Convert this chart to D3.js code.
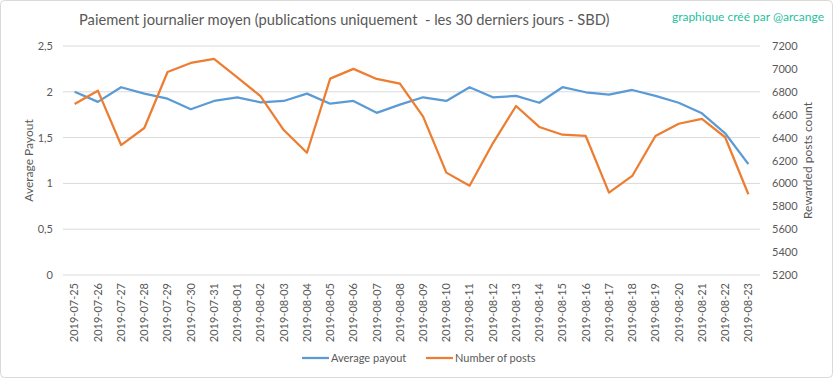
<!DOCTYPE html>
<html><head><meta charset="utf-8">
<script src="https://cdn.jsdelivr.net/npm/d3@7"></script>
<style>body{margin:0;background:#fff}svg{display:block}</style>
</head><body><svg id="c" width="833" height="379"></svg>
<script>
const dates = ["2019-07-25","2019-07-26","2019-07-27","2019-07-28","2019-07-29","2019-07-30","2019-07-31","2019-08-01","2019-08-02","2019-08-03","2019-08-04","2019-08-05","2019-08-06","2019-08-07","2019-08-08","2019-08-09","2019-08-10","2019-08-11","2019-08-12","2019-08-13","2019-08-14","2019-08-15","2019-08-16","2019-08-17","2019-08-18","2019-08-19","2019-08-20","2019-08-21","2019-08-22","2019-08-23"];
const averagePayout = [2.0,1.89,2.05,1.98,1.925,1.81,1.90,1.94,1.885,1.90,1.98,1.87,1.90,1.77,1.86,1.94,1.90,2.05,1.94,1.955,1.88,2.05,1.995,1.97,2.02,1.955,1.88,1.765,1.547,1.21];
const numberOfPosts = [6693,6810,6335,6484,6973,7052,7087,6925,6763,6466,6268,6915,7000,6912,6871,6583,6094,5980,6350,6676,6493,6425,6414,5919,6065,6414,6521,6563,6403,5905];
const leftTicks = [0,0.5,1,1.5,2,2.5];
const rightTicks = [5200,5400,5600,5800,6000,6200,6400,6600,6800,7000,7200];
const title = "Paiement journalier moyen (publications uniquement\u00a0 - les 30 derniers jours - SBD)";
const credit = "graphique créé par @arcange";

const svg = d3.select("#c");
const font = "Lato, 'Open Sans', sans-serif";
const gray = "#595959";
const L = 63, R = 760, T = 46, B = 275;

svg.append("rect").attr("x",0.5).attr("y",0.5).attr("width",832).attr("height",377).attr("rx",4)
  .attr("fill","#fff").attr("stroke","#d9d9d9");

const x = d3.scaleBand().domain(dates).range([L,R]);
const yL = d3.scaleLinear().domain([0,2.5]).range([B,T]);
const yR = d3.scaleLinear().domain([5200,7200]).range([B,T]);

svg.append("g").selectAll("line").data(leftTicks).join("line")
  .attr("x1",L).attr("x2",R).attr("y1",d=>yL(d)).attr("y2",d=>yL(d))
  .attr("stroke","#d9d9d9").attr("stroke-width",1);

const fmt = d => String(d).replace(".",",");
const axL = svg.append("g").attr("transform",`translate(${L-10},0)`)
  .call(d3.axisLeft(yL).tickValues(leftTicks).tickFormat(fmt).tickSize(0).tickPadding(0));
const axR = svg.append("g").attr("transform",`translate(${R+12},0)`)
  .call(d3.axisRight(yR).tickValues(rightTicks).tickFormat(d=>String(d)).tickSize(0).tickPadding(0));
const axX = svg.append("g").attr("transform",`translate(0,${B+8})`)
  .call(d3.axisBottom(x).tickSize(0).tickPadding(0));
axX.selectAll("text").attr("transform","rotate(-90)").attr("text-anchor","end")
  .attr("x",0).attr("y",0).attr("dy","0.35em");
[axL,axR,axX].forEach(a=>{
  a.select(".domain").remove();
  a.selectAll("text").attr("fill",gray).style("font-family",font).style("font-size","11px");
});

const cx = d => x(d) + x.bandwidth()/2;
svg.append("path").datum(averagePayout)
  .attr("d", d3.line().x((d,i)=>cx(dates[i])).y(d=>yL(d)))
  .attr("fill","none").attr("stroke","#5b9bd5").attr("stroke-width",2.25).attr("stroke-linejoin","round");
svg.append("path").datum(numberOfPosts)
  .attr("d", d3.line().x((d,i)=>cx(dates[i])).y(d=>yR(d)))
  .attr("fill","none").attr("stroke","#ed7d31").attr("stroke-width",2.25).attr("stroke-linejoin","round");

svg.append("text").attr("x",79).attr("y",25).text(title)
  .attr("fill",gray).style("font-family",font).style("font-size","14.7px");
svg.append("text").attr("x",824).attr("y",21).attr("text-anchor","end").text(credit)
  .attr("fill","#1fc0a0").style("font-family",font).style("font-size","12px");

svg.append("text").attr("transform",`translate(33,${(T+B)/2}) rotate(-90)`).attr("text-anchor","middle")
  .text("Average Payout").attr("fill",gray).style("font-family",font).style("font-size","12px");
svg.append("text").attr("transform",`translate(812,${(T+B)/2}) rotate(-90)`).attr("text-anchor","middle")
  .text("Rewarded posts  count").attr("fill",gray).style("font-family",font).style("font-size","12px");

const leg = [["Average payout","#5b9bd5",302],["Number of posts","#ed7d31",426]];
const lg = svg.append("g");
leg.forEach(([t,c,lx])=>{
  lg.append("line").attr("x1",lx).attr("x2",lx+27).attr("y1",358).attr("y2",358).attr("stroke",c).attr("stroke-width",2.25);
  lg.append("text").attr("x",lx+29).attr("y",358).attr("dy","0.35em").text(t)
    .attr("fill",gray).style("font-family",font).style("font-size","11px");
});
</script></body></html>
